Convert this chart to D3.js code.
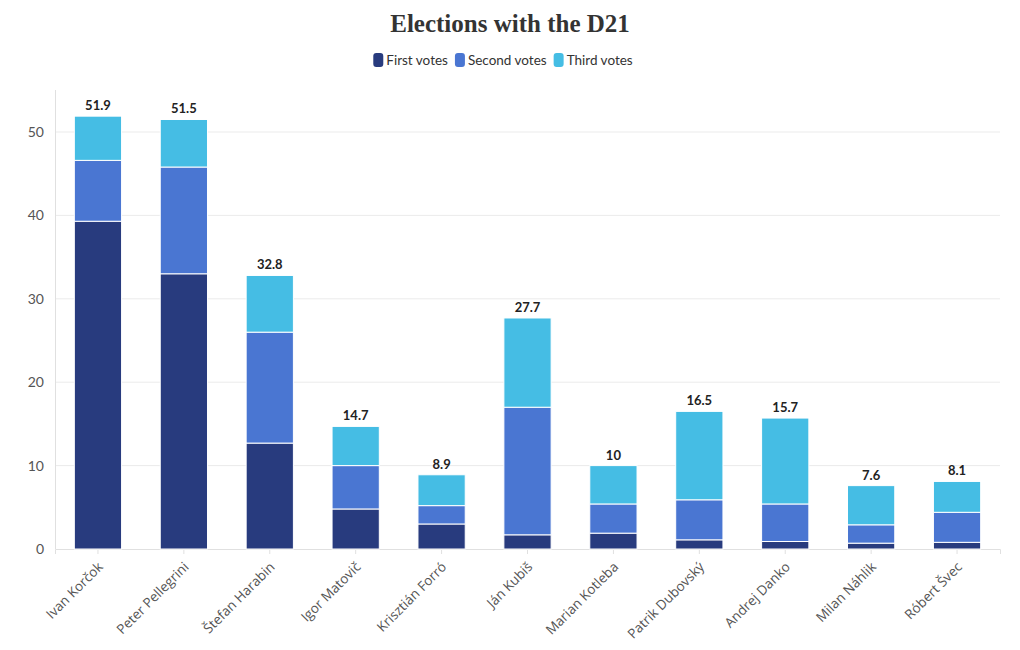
<!DOCTYPE html>
<html><head><meta charset="utf-8">
<script src="https://cdn.jsdelivr.net/npm/d3@7"></script>
<style>body{margin:0;background:#fff;}svg{display:block;}</style>
</head><body><svg id="c" width="1020" height="650"></svg>
<script>
const categories = ["Ivan Korčok","Peter Pellegrini","Štefan Harabin","Igor Matovič","Krisztián Forró","Ján Kubiš","Marian Kotleba","Patrik Dubovský","Andrej Danko","Milan Náhlik","Róbert Švec"];
const firstVotes  = [39.3, 33.0, 12.7, 4.8, 3.0, 1.7, 1.9, 1.1, 0.9, 0.7, 0.8];
const secondVotes = [7.3, 12.8, 13.3, 5.2, 2.2, 15.3, 3.5, 4.8, 4.5, 2.2, 3.6];
const thirdVotes  = [5.3, 5.7, 6.8, 4.7, 3.7, 10.7, 4.6, 10.6, 10.3, 4.7, 3.7];
const totals      = [51.9, 51.5, 32.8, 14.7, 8.9, 27.7, 10, 16.5, 15.7, 7.6, 8.1];
const seriesNames = ["First votes","Second votes","Third votes"];
const seriesColors = ["#283b7e","#4a76d2","#45bde4"];
const yTicks = [0,10,20,30,40,50];

const svg = d3.select("#c");
const m = {l:55, r:1000, t:90, b:549};
const x = d3.scaleBand().domain(categories).range([m.l, m.r]).paddingInner(0.45).paddingOuter(0.225);
const y = d3.scaleLinear().domain([0, 55]).range([m.b, m.b - 55*8.34]);

const font = "'Open Sans', sans-serif";
const font2 = "Lato, sans-serif";
// title
svg.append("text").attr("x",510).attr("y",32).attr("text-anchor","middle")
  .attr("font-family","'Liberation Serif', serif").attr("font-weight","bold").attr("font-size",25)
  .attr("fill","#333").text("Elections with the D21");

// legend
const legendItems = seriesNames.map((n,i)=>({n, c:seriesColors[i]}));
const lg = svg.append("g").attr("font-family",font2).attr("font-size",13.5).attr("fill","#333");
const tmp = [];
legendItems.forEach(d=>{
  const g = lg.append("g");
  g.append("rect").attr("x",0).attr("y",-7).attr("width",10).attr("height",14).attr("rx",3).attr("fill",d.c);
  const t = g.append("text").attr("x",13).attr("y",5).attr("fill","#333").text(d.n);
  const w = 13 + t.node().getComputedTextLength();
  tmp.push({g, w});
});
let total = tmp.reduce((a,b)=>a+b.w,0) + 7*(tmp.length-1);
let cx = 503 - total/2;
tmp.forEach(o=>{ o.g.attr("transform",`translate(${cx},60)`); cx += o.w + 7; });

// grid
svg.append("g").selectAll("line").data(yTicks.filter(d=>d>0)).join("line")
  .attr("x1",m.l).attr("x2",m.r).attr("y1",d=>y(d)).attr("y2",d=>y(d))
  .attr("stroke","#ebebeb").attr("stroke-width",1);

// y axis
const ya = svg.append("g").attr("transform",`translate(${m.l},0)`)
  .call(d3.axisLeft(y).tickValues(yTicks).tickSize(0).tickPadding(11));
ya.select(".domain").remove();
ya.selectAll("text").attr("font-family",font2).attr("font-size",14).attr("fill","#555");
svg.append("line").attr("x1",m.l+0.5).attr("x2",m.l+0.5).attr("y1",m.t).attr("y2",m.b).attr("stroke","#e0e0e0");

// x axis
const xa = svg.append("g").attr("transform",`translate(0,${m.b})`)
  .call(d3.axisBottom(x).tickSize(5).tickPadding(6));
xa.select(".domain").attr("stroke","#e0e0e0");
xa.selectAll(".tick line").attr("stroke","#e0e0e0");
xa.selectAll("text").attr("font-family",font).attr("font-size",13.5).attr("fill","#555")
  .attr("text-anchor","end").attr("dy",0)
  .attr("transform","translate(-2,11) rotate(-45)");

// stacked bars
const rows = categories.map((c,i)=>({cat:c, s0:firstVotes[i], s1:secondVotes[i], s2:thirdVotes[i]}));
const stack = d3.stack().keys(["s0","s1","s2"])(rows);
svg.append("g").selectAll("g").data(stack).join("g").attr("fill",(d,i)=>seriesColors[i])
  .selectAll("rect").data(d=>d).join("rect")
  .attr("x",d=>x(d.data.cat)).attr("width",x.bandwidth())
  .attr("y",d=>y(d[1])).attr("height",d=>y(d[0])-y(d[1]))
  .attr("stroke","#fff").attr("stroke-width",1);

// totals
svg.append("g").selectAll("text").data(categories).join("text")
  .attr("x",d=>x(d)+x.bandwidth()/2)
  .attr("y",(d,i)=>y(d3.sum([firstVotes[i],secondVotes[i],thirdVotes[i]]))-6)
  .attr("text-anchor","middle").attr("font-family",font2).attr("font-weight","bold")
  .attr("font-size",13).attr("fill","#222").text((d,i)=>totals[i]);
</script></body></html>
